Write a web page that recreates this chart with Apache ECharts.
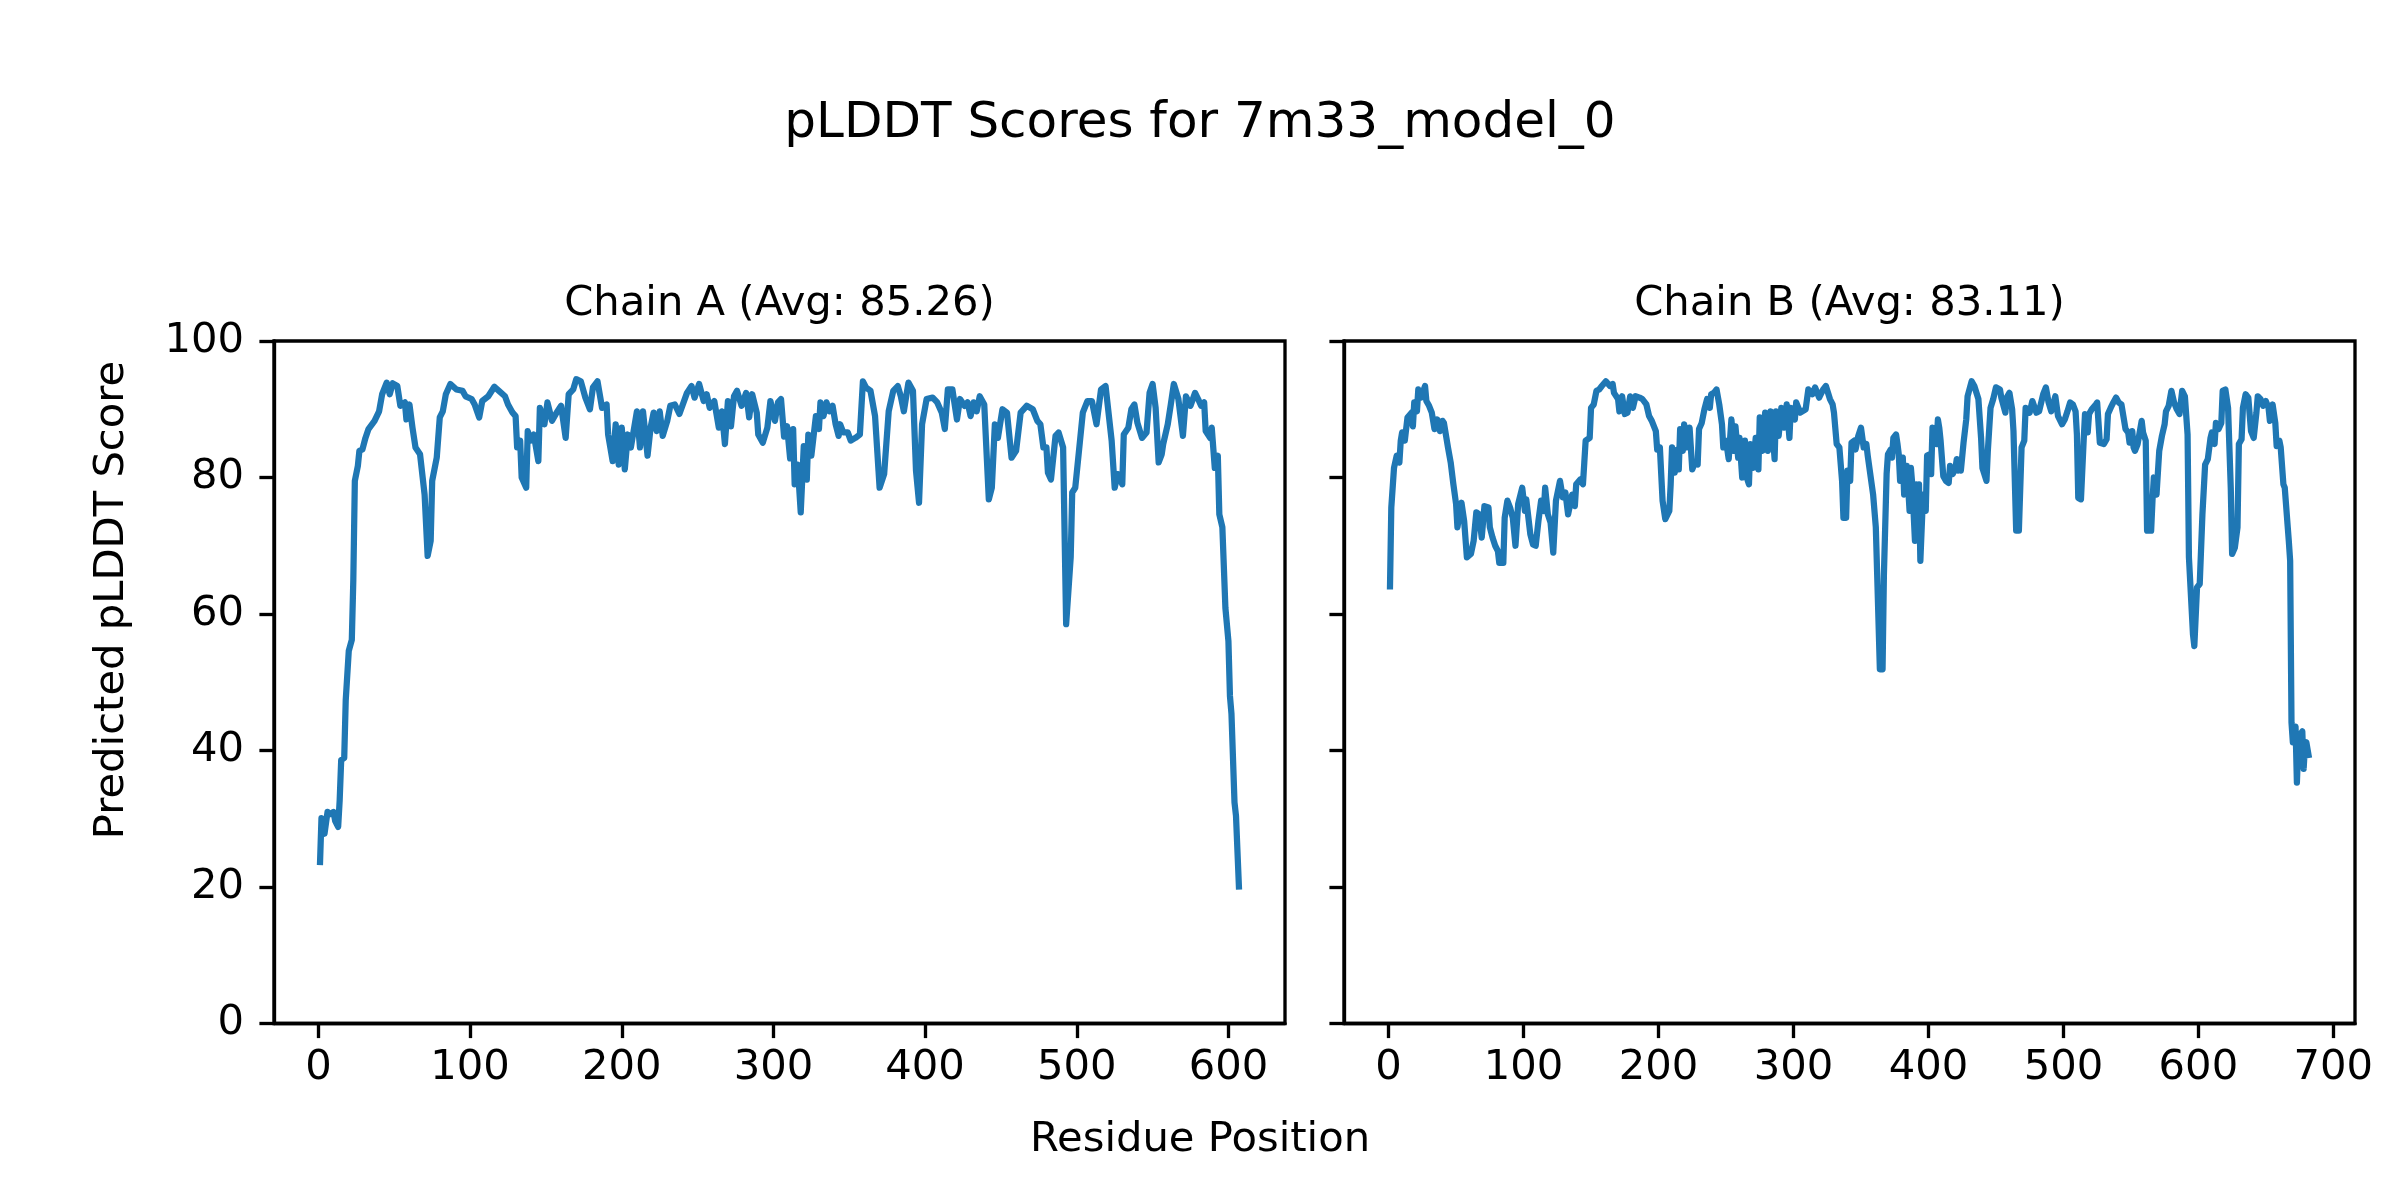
<!DOCTYPE html>
<html>
<head>
<meta charset="utf-8">
<script src="https://cdn.jsdelivr.net/npm/echarts@6/dist/echarts.min.js"></script>
<style>
html,body{margin:0;padding:0;background:#fff;}
#chart{width:2400px;height:1200px;}
</style>
</head>
<body>
<div id="chart"></div>
<script>
// ---- Data ----
const chainLabels = ['Chain A', 'Chain B'];
const chainAvgs = ['85.26', '83.11'];
const figTitle = 'pLDDT Scores for 7m33_model_0';
const xAxisTitle = 'Residue Position';
const yAxisTitle = 'Predicted pLDDT Score';

const xTicksA = [0, 100, 200, 300, 400, 500, 600];
const xTicksB = [0, 100, 200, 300, 400, 500, 600, 700];
const yTicks = [0, 20, 40, 60, 80, 100];

const chainARes = [1,2,3,4,6,8,10,11,13,14,15,17,18,20,22,23,24,26,27,29,31,33,37,40,42,45,47,49,52,54,57,58,60,62,64,67,70,72,74,75,78,80,82,84,87,91,95,97,101,103,106,108,112,116,119,123,125,128,130,131,133,134,137,138,140,142,145,146,149,151,154,157,160,163,165,168,170,173,176,179,181,184,187,190,191,194,196,198,200,202,204,206,210,212,214,217,219,221,223,225,227,230,232,235,238,243,246,248,251,254,256,258,261,264,266,268,270,272,274,276,279,282,284,286,289,290,293,296,298,301,303,305,307,309,311,313,314,316,318,320,322,323,325,328,330,331,333,335,337,339,341,343,344,346,349,351,354,357,359,361,364,367,370,373,376,379,382,384,386,389,392,394,396,398,401,405,408,409,411,413,415,418,421,423,426,428,430,432,434,436,439,442,444,446,448,451,454,457,460,463,467,471,474,476,478,480,481,483,486,488,491,493,496,497,499,502,504,507,510,513,516,519,523,525,527,530,531,534,536,538,540,543,546,548,550,552,554,556,557,560,562,564,567,570,572,575,578,580,582,584,585,588,589,591,593,594,596,598,600,601,602,604,605,607];
const chainAScore = [23.2,30.1,29.7,27.8,31.0,30.7,31.0,29.7,28.8,32.7,38.6,38.9,47.4,54.6,56.2,65.0,79.5,81.7,83.9,84.1,85.8,87.1,88.3,89.7,92.2,93.9,92.2,93.8,93.4,90.5,91.0,88.5,90.7,87.3,84.4,83.4,77.5,68.5,70.7,79.5,82.9,88.8,89.7,92.2,93.7,92.9,92.7,91.9,91.5,90.7,88.8,91.2,91.9,93.3,92.7,91.9,90.7,89.5,89.0,84.4,85.4,80.0,78.5,86.8,85.4,86.3,82.4,90.2,87.8,91.0,88.3,89.5,90.5,85.8,92.2,92.9,94.4,94.1,91.7,90.0,93.2,94.1,90.2,90.7,86.3,82.4,87.8,81.9,87.3,81.2,86.3,84.4,89.7,84.4,89.7,83.2,87.3,89.5,86.8,89.7,86.1,88.3,90.5,90.7,89.3,92.4,93.4,91.7,93.7,91.2,92.2,90.2,91.2,87.3,89.7,84.9,91.2,87.5,91.9,92.7,90.5,92.4,88.8,92.2,89.5,86.3,85.1,87.3,91.2,88.3,91.0,91.5,86.0,87.5,82.8,87.1,79.0,81.9,74.9,84.6,79.7,86.3,83.2,89.0,87.1,91.0,89.0,91.0,89.7,90.5,87.8,86.1,87.8,86.6,86.6,85.4,85.8,86.3,94.1,93.2,92.7,89.0,78.5,80.5,89.7,92.7,93.4,91.9,89.7,93.9,92.7,81.0,76.3,87.8,91.5,91.7,91.0,91.2,89.5,87.1,92.9,92.9,88.5,91.5,90.5,91.0,89.0,91.0,89.7,91.9,90.7,76.8,78.5,87.8,85.8,90.0,89.5,82.9,83.9,89.5,90.5,90.0,88.3,87.8,84.4,84.4,80.7,79.7,86.1,86.6,84.4,58.5,68.3,77.8,78.5,85.1,89.5,91.2,91.2,87.8,92.9,93.4,85.4,78.5,80.5,79.0,86.3,87.3,90.0,90.7,88.0,85.8,86.6,92.4,93.7,90.2,82.2,83.4,84.9,87.8,90.7,93.7,91.5,86.1,91.9,90.5,92.4,91.5,90.5,91.0,86.8,85.8,87.3,81.4,83.2,74.6,72.7,60.9,56.0,48.0,45.4,32.4,30.4,19.6];

const chainBRes = [1,2,4,6,8,9,10,12,14,17,18,19,21,22,24,27,28,30,32,34,36,38,40,41,44,46,48,50,51,54,56,58,61,63,65,67,69,71,74,75,77,79,81,82,85,86,88,90,92,94,96,99,101,102,105,107,109,111,113,115,116,118,120,122,124,127,129,131,133,136,138,139,142,144,145,146,149,150,152,154,156,158,161,164,166,167,170,171,173,175,177,179,181,183,186,188,191,193,195,198,199,201,203,205,208,209,210,212,214,215,216,218,219,221,223,225,227,229,230,232,234,236,238,239,241,243,245,247,248,250,252,254,256,257,259,260,262,264,265,267,268,270,272,274,275,277,279,281,283,285,286,287,289,291,293,295,297,298,301,302,305,309,311,314,316,319,322,324,327,329,330,332,334,336,337,339,340,342,343,345,346,348,350,352,354,355,359,361,362,364,366,367,369,370,372,373,374,376,377,378,379,381,382,384,385,386,387,388,390,391,392,393,394,396,398,399,401,402,403,405,406,407,408,409,410,411,413,415,416,418,420,421,422,423,424,426,428,429,432,434,437,439,440,443,444,446,448,450,453,454,457,458,460,462,463,465,467,469,471,472,475,477,480,482,485,487,489,491,494,496,499,501,503,505,507,509,510,511,513,515,516,518,519,521,524,525,527,530,532,533,535,537,539,541,543,546,548,549,551,552,553,555,558,559,561,562,565,566,567,569,571,573,575,576,578,580,582,584,586,588,590,592,593,596,597,599,601,603,605,607,609,610,612,613,615,617,618,620,622,624,625,627,629,630,632,633,635,637,639,641,643,644,646,648,650,652,653,655,657,658,660,661,663,664,667,668,669,670,672,673,674,675,676,677,678,679,680,682];
const chainBScore = [63.6,75.6,81.4,83.2,82.2,85.4,86.6,85.4,88.8,89.5,87.5,91.0,89.7,92.9,91.7,93.4,91.2,90.5,89.5,87.1,88.5,86.8,88.3,88.0,84.4,82.2,79.0,76.1,72.7,76.3,73.6,68.3,68.8,70.7,74.9,74.6,71.2,75.8,75.6,72.7,71.2,70.0,69.2,67.5,67.5,74.1,76.6,75.6,74.1,70.0,76.1,78.5,75.1,76.8,71.7,70.2,70.0,73.6,76.6,75.1,78.5,74.6,73.4,69.0,76.6,79.5,77.1,77.8,74.6,77.5,75.8,79.0,79.7,79.0,82.2,85.4,85.8,90.2,90.7,92.7,92.9,93.4,94.1,93.4,93.7,92.4,91.5,89.7,91.9,89.3,89.5,91.9,90.2,91.9,91.7,91.5,90.7,89.0,88.3,86.8,84.1,84.4,76.6,73.9,75.1,79.0,84.4,80.7,84.1,81.2,87.1,83.9,87.8,84.4,87.3,81.2,82.2,81.9,87.1,88.0,90.0,91.5,90.2,92.2,92.4,92.9,90.7,87.8,84.4,85.4,82.7,88.5,83.9,87.5,82.9,85.8,80.0,85.4,80.2,79.0,84.9,81.4,85.8,81.2,88.8,83.9,89.5,83.9,89.7,85.4,82.7,89.7,86.1,90.2,87.3,90.7,85.8,90.2,88.5,91.0,89.5,90.0,92.9,92.2,93.2,91.7,92.9,93.4,91.5,90.7,89.5,84.9,84.4,79.5,74.1,74.1,81.0,79.5,85.1,85.4,84.1,86.1,87.3,84.4,84.9,83.2,77.5,72.7,65.8,51.9,51.9,65.8,80.5,83.4,84.1,82.9,85.8,86.3,85.0,83.4,79.5,82.9,77.5,81.7,78.5,75.1,81.4,79.0,70.7,79.0,74.1,79.0,67.8,77.5,75.1,83.2,83.4,80.5,87.3,87.1,84.9,88.5,87.3,85.4,85.4,80.2,79.5,79.2,81.7,80.5,81.4,82.7,81.0,82.4,81.0,85.1,88.5,91.9,94.1,93.4,91.5,85.8,81.4,79.5,83.9,90.2,91.5,93.2,92.9,91.7,89.5,91.7,92.4,90.0,86.8,72.2,72.2,84.4,85.4,90.2,89.5,91.2,89.5,89.7,92.2,93.2,91.0,89.7,91.9,89.0,87.8,88.5,89.7,91.0,90.7,89.7,86.3,77.0,76.8,85.4,89.3,86.6,89.3,90.0,90.7,91.0,85.1,84.9,85.6,89.3,90.2,91.0,91.7,91.0,90.7,87.1,86.6,85.1,86.8,84.4,83.9,84.9,88.3,86.6,85.4,72.2,72.2,76.6,80.0,77.5,83.9,86.1,87.8,89.7,90.5,92.7,91.0,90.0,89.3,92.7,91.9,86.3,68.3,57.0,55.3,63.9,64.4,74.6,81.9,82.7,85.8,86.6,84.9,88.0,87.1,88.0,92.7,92.9,90.2,78.5,68.8,69.7,72.7,84.9,85.6,90.2,92.2,91.7,86.8,85.8,89.5,91.9,91.5,90.5,91.2,90.2,88.3,90.7,88.0,84.6,85.4,84.4,79.0,78.5,70.7,67.8,44.1,41.2,43.5,35.3,40.8,38.6,42.5,42.8,37.3,40.8,41.2,38.9];

// ---- Chart ----
const dom = document.getElementById('chart');
const chart = echarts.init(dom, null, {renderer: 'canvas', width: 2400, height: 1200});

const FONT = 'DejaVu Sans';
const LW = 3.33;
const gridTop = 341, gridH = 682.5, gridW = 1011;
const gridLefts = [274, 1344];

function pairs(xs, ys) { return xs.map((x, i) => [x, ys[i]]); }

function xAxisCfg(idx, min, max, ticks) {
  return {
    type: 'value', gridIndex: idx, min: min, max: max,
    axisLine: {show: true, onZero: false, lineStyle: {color: '#000', width: LW}},
    axisTick: {show: true, length: 14.6, lineStyle: {color: '#000', width: LW}, customValues: ticks},
    axisLabel: {show: true, margin: 24, fontSize: 41.7, fontFamily: FONT, color: '#000', customValues: ticks},
    splitLine: {show: false}
  };
}
function yAxisCfg(idx, showLabels) {
  return {
    type: 'value', gridIndex: idx, min: yTicks[0], max: yTicks[yTicks.length - 1], interval: 20,
    axisLine: {show: true, onZero: false, lineStyle: {color: '#000', width: LW}},
    axisTick: {show: true, length: 14.6, lineStyle: {color: '#000', width: LW}},
    axisLabel: {show: showLabels, margin: 30, fontSize: 41.7, fontFamily: FONT, color: '#000'},
    splitLine: {show: false}
  };
}
function lineSeries(idx, data) {
  return {
    type: 'line', xAxisIndex: idx, yAxisIndex: idx, data: data,
    showSymbol: false, symbol: 'none', clip: true, silent: true,
    animation: false,
    lineStyle: {color: '#1f77b4', width: 6.25, join: 'round', cap: 'butt'},
    emphasis: {disabled: true}
  };
}
function txt(x, y, text, size, rot) {
  return {
    type: 'text', x: x, y: y, rotation: rot || 0, silent: true,
    style: {text: text, fontSize: size, fontFamily: FONT, fill: '#000', align: 'center', verticalAlign: 'middle'}
  };
}

const option = {
  animation: false,
  backgroundColor: '#ffffff',
  grid: gridLefts.map(l => ({left: l, top: gridTop, width: gridW, height: gridH, show: true,
    borderColor: '#000', borderWidth: LW, backgroundColor: 'transparent', containLabel: false})),
  xAxis: [xAxisCfg(0, -29.3, 637.3, xTicksA), xAxisCfg(1, -33.05, 716.05, xTicksB)],
  yAxis: [yAxisCfg(0, true), yAxisCfg(1, false)],
  series: [lineSeries(0, pairs(chainARes, chainAScore)), lineSeries(1, pairs(chainBRes, chainBScore))],
  graphic: [
    txt(1200, 124, figTitle, 50),
    txt(gridLefts[0] + gridW / 2, 304, chainLabels[0] + ' (Avg: ' + chainAvgs[0] + ')', 41.7),
    txt(gridLefts[1] + gridW / 2, 304, chainLabels[1] + ' (Avg: ' + chainAvgs[1] + ')', 41.7),
    txt(1200, 1140, xAxisTitle, 41.7),
    txt(112, 600, yAxisTitle, 41.7, Math.PI / 2)
  ]
};
chart.setOption(option);
</script>
</body>
</html>
